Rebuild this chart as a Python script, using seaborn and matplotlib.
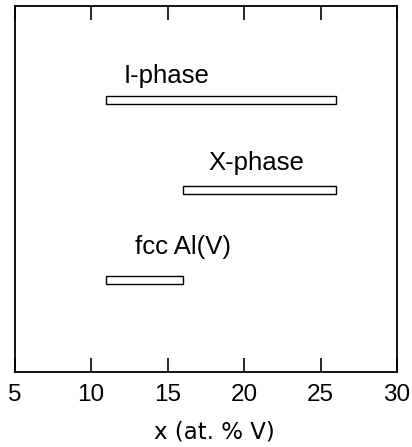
import matplotlib
matplotlib.use("Agg")
import matplotlib.pyplot as plt
import seaborn as sns

phases = ["I-phase", "X-phase", "fcc Al(V)"]
x_start = [11, 16, 11]
x_end = [26, 26, 16]
y_pos = [3, 2, 1]
label_x = [12.1, 17.7, 12.9]
label_y = [3.19, 2.22, 1.29]
xticks = [5, 10, 15, 20, 25, 30]

sns.set_style("ticks")
plt.rcParams['font.family'] = ['Liberation Sans', 'DejaVu Sans']

fig = plt.figure(figsize=(4.12, 4.47), dpi=100)
ax = fig.add_axes([0.0352, 0.1678, 0.9284, 0.8188])

widths = [e - s for s, e in zip(x_start, x_end)]
ax.barh(y_pos, widths, left=x_start, height=0.09, facecolor='white',
        edgecolor='black', linewidth=1.0)

for name, tx, ty in zip(phases, label_x, label_y):
    ax.text(tx, ty, name, fontsize=18.5, va='baseline', ha='left', color='black')

ax.set_xlim(5, 30)
ax.set_ylim(-0.02, 4.04)
ax.set_xticks(xticks)
ax.set_xticklabels([str(t) for t in xticks], fontsize=17.5)
ax.set_yticks([])
ax.tick_params(axis='x', direction='in', length=10, width=1.2, top=True,
               bottom=True, labeltop=False, pad=9, colors='black')
for sp in ax.spines.values():
    sp.set_linewidth(1.3)
    sp.set_color('black')
    sp.set_visible(True)

ax.set_xlabel("x (at. % V)", fontsize=16.5, family=['DejaVu Sans'], color='black')
ax.xaxis.set_label_coords(0.523, -0.133)

fig.savefig("out.png", dpi=100, facecolor='white')
